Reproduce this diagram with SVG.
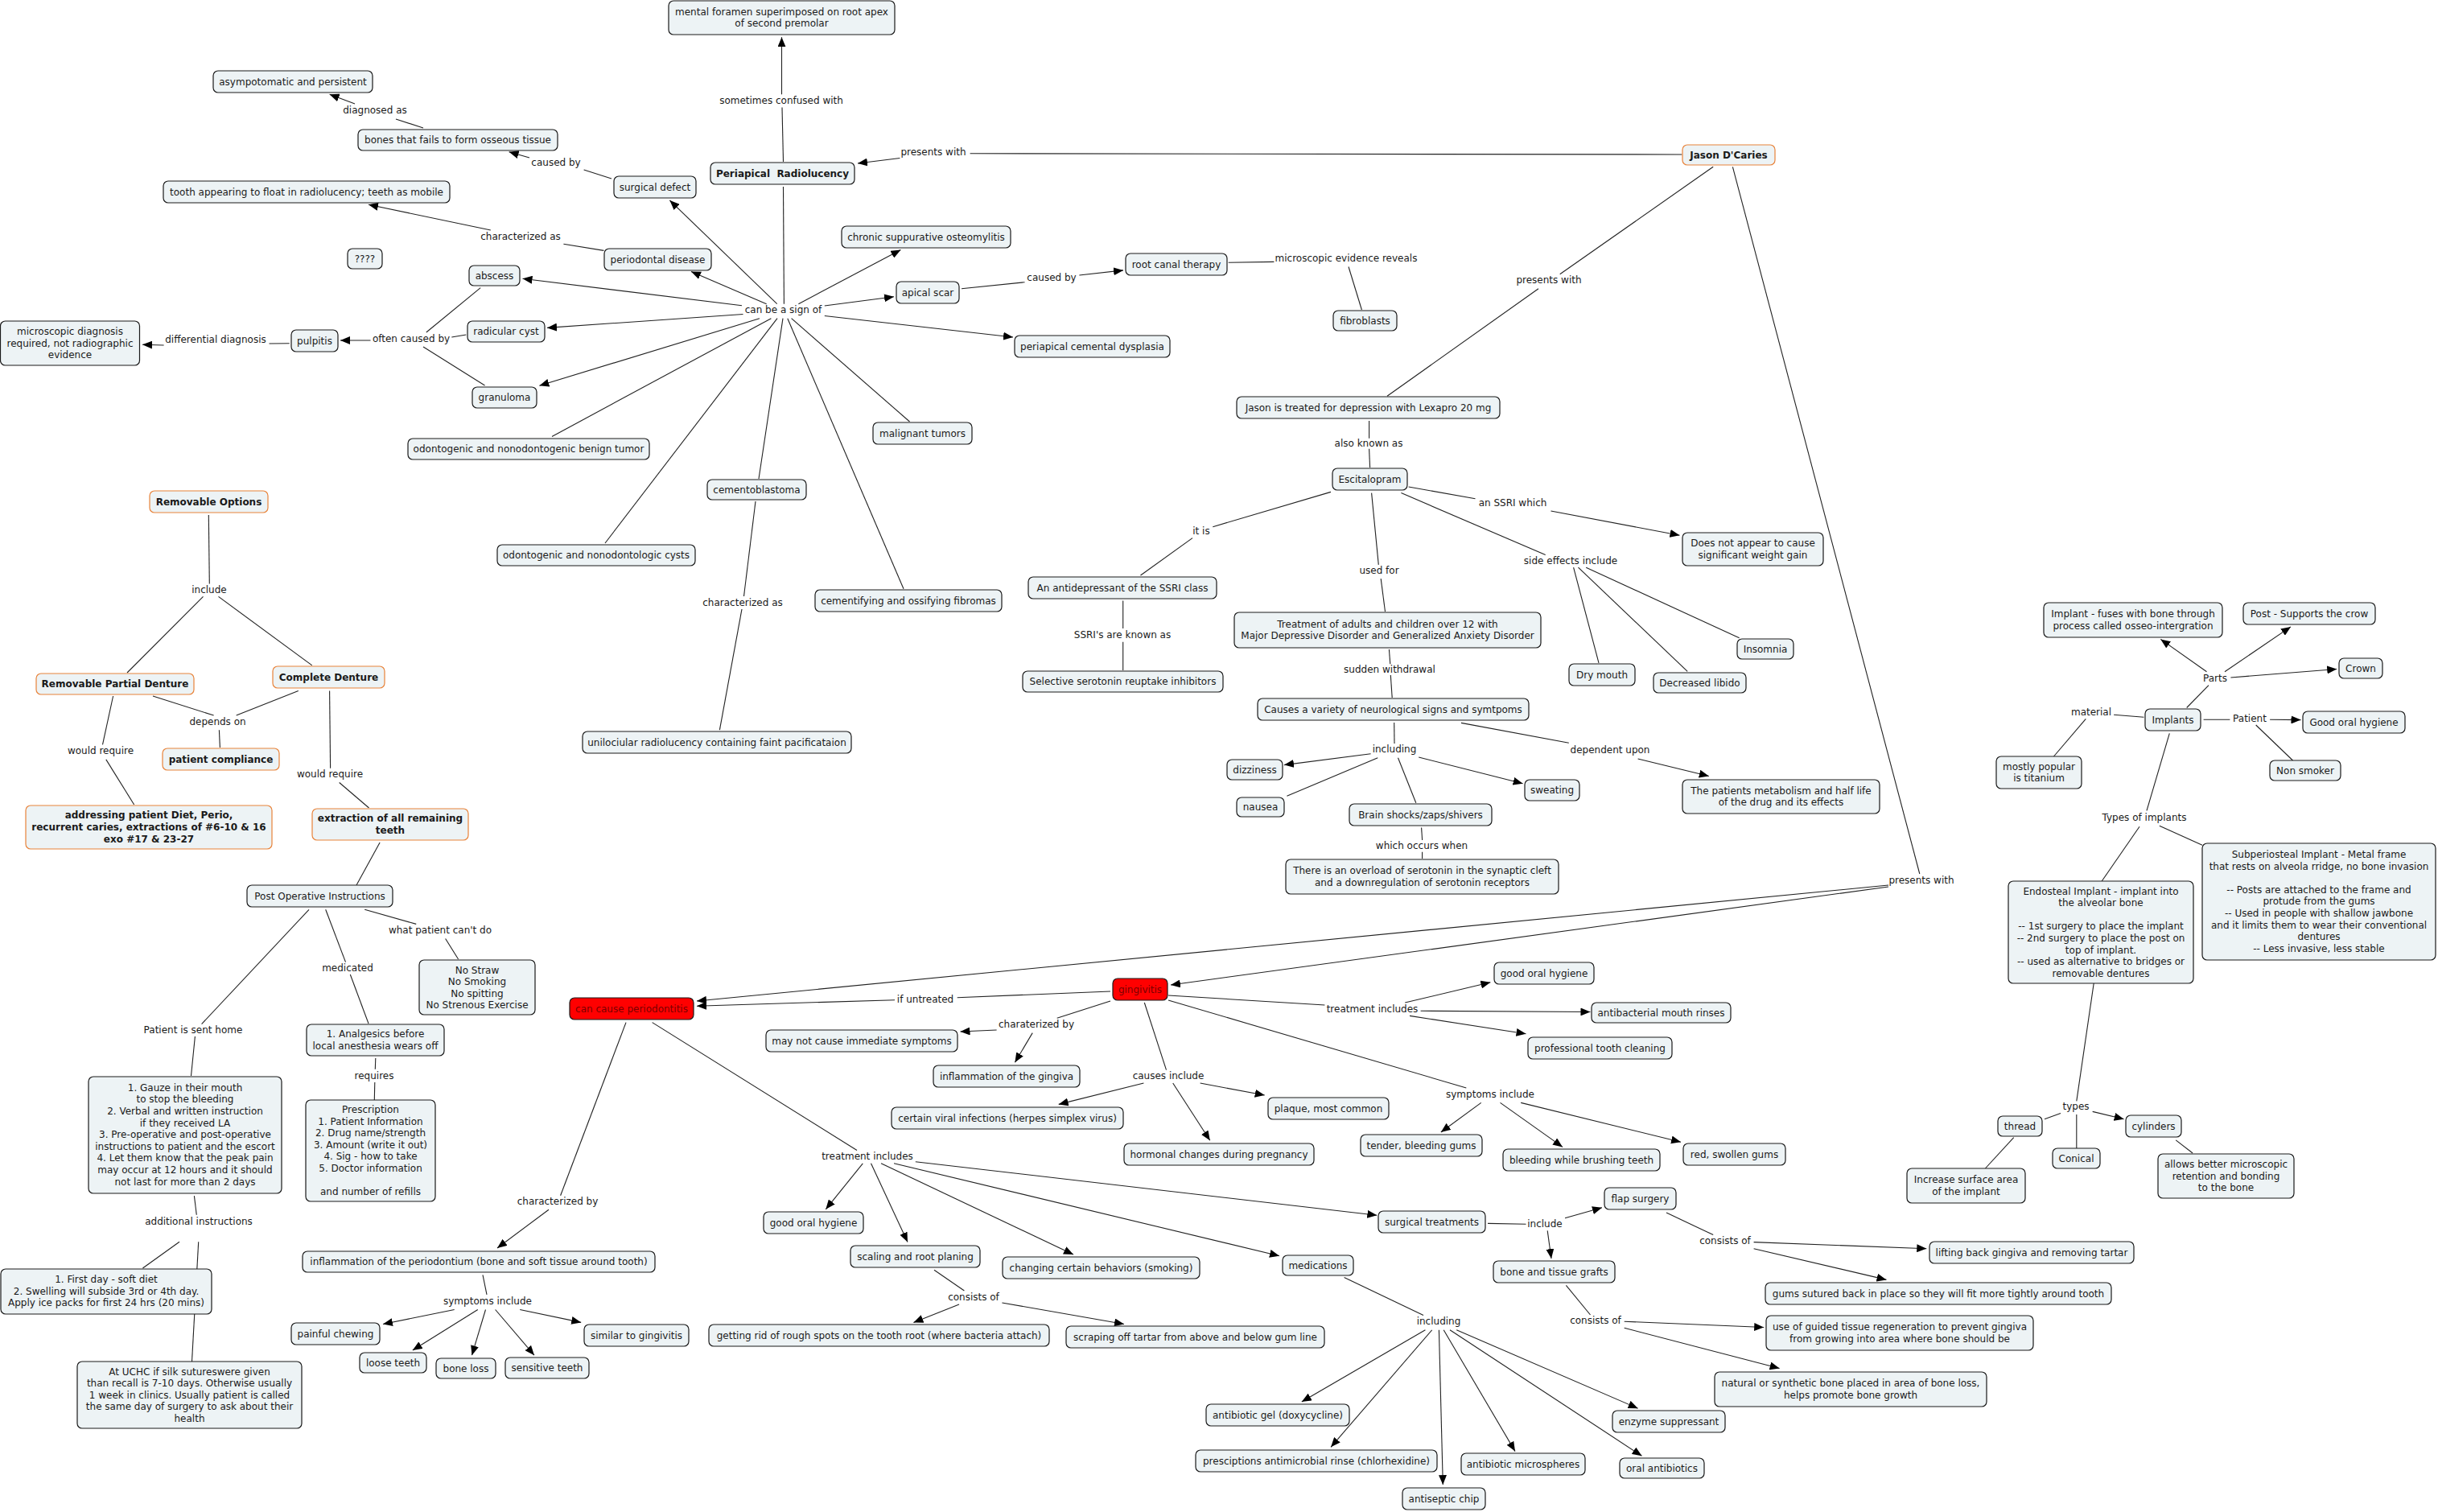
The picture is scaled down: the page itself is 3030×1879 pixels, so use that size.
<svg xmlns="http://www.w3.org/2000/svg" width="3030" height="1879" viewBox="0 0 3030 1879">
<style>
.n rect{fill:#edf3f5;stroke:#1a1a1a;stroke-width:1.2}
.o rect{stroke:#e8833a}
.r rect{fill:#ff0000}
text{font-family:"DejaVu Sans",Verdana,sans-serif;font-size:12px;fill:#1a1a1a;text-anchor:middle}
.b text{font-weight:bold}
.r text{fill:#7a0000}
.c{stroke:#222;stroke-width:1.1;fill:none}
.a{marker-end:url(#ah)}
</style>
<defs>
<marker id="ah" markerUnits="userSpaceOnUse" markerWidth="12" markerHeight="10" refX="12" refY="5" orient="auto"><path d="M0,0 L12,5 L0,10 z" fill="#000"/></marker>
</defs>
<rect x="0" y="0" width="3030" height="1879" fill="#fff"/>
<g id="connectors">
<line class="c" x1="526" y1="159" x2="492" y2="148"/>
<line class="c a" x1="441" y1="129" x2="409.6" y2="117.3"/>
<line class="c" x1="760" y1="222" x2="725.6" y2="211"/>
<line class="c a" x1="658" y1="196" x2="632.6" y2="188.8"/>
<line class="c" x1="700.4" y1="303.3" x2="750.4" y2="311.4"/>
<line class="c a" x1="609.8" y1="286" x2="458" y2="254.3"/>
<line class="c" x1="359.7" y1="426.7" x2="334.5" y2="427"/>
<line class="c a" x1="203.6" y1="429" x2="177" y2="428.3"/>
<line class="c a" x1="460.5" y1="423" x2="423" y2="423"/>
<line class="c" x1="529.8" y1="413" x2="597.2" y2="357.6"/>
<line class="c" x1="561.3" y1="419" x2="579.3" y2="416"/>
<line class="c" x1="526" y1="431" x2="602.5" y2="479"/>
<line class="c" x1="973.5" y1="201" x2="972" y2="133.4"/>
<line class="c a" x1="971.5" y1="117.3" x2="971.5" y2="46.2"/>
<line class="c a" x1="1118.4" y1="196.5" x2="1066" y2="203"/>
<line class="c" x1="1205.6" y1="190.8" x2="2090.4" y2="192"/>
<line class="c" x1="973.5" y1="232" x2="974.4" y2="377.7"/>
<line class="c a" x1="965.7" y1="377.7" x2="832.4" y2="249"/>
<line class="c a" x1="952.6" y1="377.7" x2="859" y2="337.5"/>
<line class="c a" x1="922" y1="379.7" x2="649.5" y2="346.3"/>
<line class="c a" x1="923.5" y1="390.5" x2="680" y2="407.4"/>
<line class="c a" x1="944" y1="395.7" x2="670.4" y2="479.3"/>
<line class="c" x1="958.4" y1="395.7" x2="686" y2="542.4"/>
<line class="c" x1="966" y1="395.7" x2="752" y2="675"/>
<line class="c" x1="973" y1="395.7" x2="943" y2="595"/>
<line class="c" x1="978.8" y1="395.7" x2="1123" y2="731.7"/>
<line class="c" x1="983.6" y1="395.7" x2="1130.5" y2="524"/>
<line class="c a" x1="992.4" y1="377.7" x2="1119.4" y2="310.6"/>
<line class="c a" x1="1024.8" y1="380" x2="1111" y2="368.8"/>
<line class="c a" x1="1024.8" y1="392.5" x2="1259" y2="419"/>
<line class="c" x1="1195" y1="358.8" x2="1273.5" y2="350.7"/>
<line class="c a" x1="1341.4" y1="342" x2="1396" y2="335.9"/>
<line class="c" x1="1526.7" y1="326.2" x2="1583.4" y2="325.4"/>
<line class="c" x1="1676" y1="331.5" x2="1692.4" y2="385"/>
<line class="c" x1="2129.2" y1="207.3" x2="1938.7" y2="340.7"/>
<line class="c" x1="1912" y1="358.8" x2="1724" y2="492.2"/>
<line class="c" x1="1701.6" y1="523" x2="1701.6" y2="544.8"/>
<line class="c" x1="1701.6" y1="557.7" x2="1702.6" y2="581"/>
<line class="c" x1="1750.6" y1="605" x2="1833.5" y2="619.8"/>
<line class="c a" x1="1927.5" y1="635" x2="2087.5" y2="665.2"/>
<line class="c" x1="1741.4" y1="612.6" x2="1920.7" y2="689.6"/>
<line class="c" x1="1955.6" y1="705.2" x2="1987" y2="823.9"/>
<line class="c" x1="1961.5" y1="705.2" x2="2097.2" y2="834.4"/>
<line class="c" x1="1971.2" y1="705.2" x2="2161.6" y2="792.8"/>
<line class="c" x1="1704.6" y1="612.6" x2="1713.3" y2="701.9"/>
<line class="c" x1="1716.2" y1="719.1" x2="1721.5" y2="760"/>
<line class="c" x1="1726.4" y1="807" x2="1727.8" y2="825.2"/>
<line class="c" x1="1728.3" y1="839" x2="1730.2" y2="867"/>
<line class="c" x1="1732.7" y1="898" x2="1733" y2="924"/>
<line class="c a" x1="1703.6" y1="936.7" x2="1596" y2="950.6"/>
<line class="c" x1="1712.3" y1="941.8" x2="1599.4" y2="989.3"/>
<line class="c" x1="1737.5" y1="941.8" x2="1759.8" y2="997.7"/>
<line class="c a" x1="1763.2" y1="941" x2="1892.6" y2="973.7"/>
<line class="c" x1="1816" y1="898.4" x2="1949.8" y2="923.2"/>
<line class="c a" x1="2035.6" y1="943" x2="2123.8" y2="964.5"/>
<line class="c" x1="1766.6" y1="1028.5" x2="1767.6" y2="1044"/>
<line class="c" x1="1767.6" y1="1058.7" x2="1767.6" y2="1067"/>
<line class="c" x1="1654" y1="611.4" x2="1507.3" y2="654.7"/>
<line class="c" x1="1482" y1="668.6" x2="1417.5" y2="715"/>
<line class="c" x1="1395.7" y1="746.5" x2="1395.7" y2="781"/>
<line class="c" x1="1395.7" y1="797.8" x2="1395.7" y2="833"/>
<line class="c" x1="939" y1="623" x2="924.5" y2="741"/>
<line class="c" x1="922" y1="757" x2="894.4" y2="907.2"/>
<line class="c" x1="2153.4" y1="207.3" x2="2385.8" y2="1086"/>
<line class="c a" x1="2347" y1="1100" x2="866" y2="1244"/>
<line class="c a" x1="2347" y1="1102" x2="1455" y2="1224"/>
<line class="c" x1="1380" y1="1232" x2="1189.7" y2="1239.7"/>
<line class="c a" x1="1112" y1="1242.7" x2="866" y2="1250.2"/>
<line class="c" x1="259.3" y1="640" x2="260.3" y2="725.4"/>
<line class="c" x1="252.5" y1="741.4" x2="158" y2="836"/>
<line class="c" x1="271.5" y1="741.4" x2="387.8" y2="826.9"/>
<line class="c" x1="190" y1="865" x2="265.6" y2="889.1"/>
<line class="c" x1="370.8" y1="858.4" x2="293.7" y2="889.1"/>
<line class="c" x1="272.4" y1="907.2" x2="273.4" y2="929"/>
<line class="c" x1="140.6" y1="865" x2="127.5" y2="925.3"/>
<line class="c" x1="131.8" y1="943.9" x2="166.7" y2="1000"/>
<line class="c" x1="409.6" y1="858.4" x2="410.6" y2="954.8"/>
<line class="c" x1="421.7" y1="972.5" x2="458.5" y2="1004"/>
<line class="c" x1="472.1" y1="1047" x2="443" y2="1100"/>
<line class="c" x1="453.2" y1="1130.3" x2="517.2" y2="1148.4"/>
<line class="c" x1="553.6" y1="1166.5" x2="569.6" y2="1192"/>
<line class="c" x1="404.7" y1="1130.3" x2="429.5" y2="1195.6"/>
<line class="c" x1="435.3" y1="1211" x2="458" y2="1272"/>
<line class="c" x1="384" y1="1130.3" x2="250.6" y2="1272.6"/>
<line class="c" x1="242.4" y1="1288" x2="237.5" y2="1337"/>
<line class="c" x1="241.4" y1="1486.1" x2="244.3" y2="1509.8"/>
<line class="c" x1="223" y1="1543.2" x2="177.4" y2="1576"/>
<line class="c" x1="246.7" y1="1543.2" x2="238.5" y2="1692"/>
<line class="c" x1="466.8" y1="1315" x2="466.3" y2="1328.8"/>
<line class="c" x1="465.8" y1="1345.1" x2="465.3" y2="1367"/>
<line class="c" x1="778" y1="1270.6" x2="696.6" y2="1485.7"/>
<line class="c a" x1="682" y1="1503.2" x2="618" y2="1551"/>
<line class="c" x1="600" y1="1584.3" x2="605" y2="1608.8"/>
<line class="c a" x1="564.7" y1="1627.5" x2="476" y2="1645.5"/>
<line class="c a" x1="593.8" y1="1627.5" x2="512.8" y2="1678"/>
<line class="c a" x1="603.5" y1="1627.5" x2="586.5" y2="1684.2"/>
<line class="c a" x1="615.6" y1="1627.5" x2="664" y2="1684.2"/>
<line class="c a" x1="646.2" y1="1627.5" x2="722.2" y2="1643.4"/>
<line class="c" x1="810.6" y1="1270.6" x2="1065" y2="1429.5"/>
<line class="c" x1="1380" y1="1244" x2="1313.7" y2="1265.3"/>
<line class="c a" x1="1238.6" y1="1280" x2="1193.5" y2="1282"/>
<line class="c a" x1="1283.2" y1="1283.6" x2="1261.4" y2="1320.3"/>
<line class="c" x1="1422.3" y1="1246" x2="1449.5" y2="1329.6"/>
<line class="c a" x1="1421.4" y1="1346" x2="1315.7" y2="1372.4"/>
<line class="c a" x1="1457.7" y1="1346" x2="1503.8" y2="1417.3"/>
<line class="c a" x1="1491.6" y1="1346" x2="1571.7" y2="1361"/>
<line class="c a" x1="1072.3" y1="1445.8" x2="1026.3" y2="1502.8"/>
<line class="c a" x1="1082.5" y1="1445.8" x2="1128" y2="1543.6"/>
<line class="c a" x1="1095" y1="1445.8" x2="1334" y2="1559"/>
<line class="c a" x1="1111" y1="1445.8" x2="1590" y2="1560.7"/>
<line class="c a" x1="1137.8" y1="1443.7" x2="1711.3" y2="1510.2"/>
<line class="c" x1="1161" y1="1578.2" x2="1198.4" y2="1604"/>
<line class="c a" x1="1192" y1="1621" x2="1135.4" y2="1643.4"/>
<line class="c a" x1="1245.4" y1="1619" x2="1397" y2="1645.5"/>
<line class="c" x1="1452" y1="1237" x2="1646.4" y2="1249"/>
<line class="c a" x1="1746.2" y1="1246" x2="1852.4" y2="1220.8"/>
<line class="c a" x1="1765.6" y1="1256.3" x2="1976.5" y2="1257.5"/>
<line class="c a" x1="1752" y1="1262.4" x2="1896.5" y2="1284.8"/>
<line class="c" x1="1452" y1="1243" x2="1822.3" y2="1352"/>
<line class="c a" x1="1840.8" y1="1370.4" x2="1790.8" y2="1407"/>
<line class="c a" x1="1864.5" y1="1370.4" x2="1942" y2="1425.4"/>
<line class="c a" x1="1890.2" y1="1370.4" x2="2089" y2="1419.3"/>
<line class="c" x1="1849" y1="1520.4" x2="1896.5" y2="1521.2"/>
<line class="c a" x1="1945" y1="1513.8" x2="1991" y2="1500.8"/>
<line class="c a" x1="1923.2" y1="1529.3" x2="1928" y2="1564"/>
<line class="c" x1="2071" y1="1507" x2="2129.2" y2="1534.6"/>
<line class="c a" x1="2179.6" y1="1543.6" x2="2394.3" y2="1551.7"/>
<line class="c a" x1="2179.6" y1="1551.7" x2="2344.5" y2="1590.4"/>
<line class="c" x1="1670.6" y1="1587.6" x2="1769" y2="1634.4"/>
<line class="c a" x1="1771.4" y1="1652.8" x2="1617.8" y2="1742"/>
<line class="c a" x1="1779.7" y1="1652.8" x2="1654.1" y2="1798.3"/>
<line class="c a" x1="1788.4" y1="1652.8" x2="1793.3" y2="1845.1"/>
<line class="c a" x1="1794.2" y1="1652.8" x2="1883" y2="1803.6"/>
<line class="c a" x1="1802" y1="1652.8" x2="2040.5" y2="1809.3"/>
<line class="c a" x1="1810.2" y1="1652.8" x2="2035.6" y2="1750.2"/>
<line class="c" x1="1946.4" y1="1597.4" x2="1976.5" y2="1634"/>
<line class="c a" x1="2018.7" y1="1642.2" x2="2192.2" y2="1649.5"/>
<line class="c a" x1="2018.7" y1="1650.3" x2="2211.6" y2="1700.5"/>
<line class="c" x1="2602.2" y1="1222" x2="2580.8" y2="1368.4"/>
<line class="c" x1="2561" y1="1383.4" x2="2541" y2="1390.8"/>
<line class="c" x1="2580.8" y1="1385" x2="2580.8" y2="1427"/>
<line class="c a" x1="2600.7" y1="1381.4" x2="2639.6" y2="1390.8"/>
<line class="c" x1="2502.7" y1="1413.6" x2="2467.4" y2="1452"/>
<line class="c" x1="2704.2" y1="1416.9" x2="2725.1" y2="1433"/>
<line class="c" x1="2717.7" y1="879.5" x2="2745" y2="851.7"/>
<line class="c a" x1="2742.5" y1="834.8" x2="2685.3" y2="794.4"/>
<line class="c a" x1="2765" y1="834.8" x2="2847" y2="778.9"/>
<line class="c a" x1="2772.4" y1="842" x2="2904.2" y2="831.5"/>
<line class="c" x1="2664.4" y1="891.2" x2="2627.1" y2="888.3"/>
<line class="c" x1="2592.3" y1="893.3" x2="2552.5" y2="940"/>
<line class="c" x1="2738.6" y1="894.2" x2="2771.4" y2="894.2"/>
<line class="c a" x1="2821.1" y1="894.2" x2="2859.5" y2="894.6"/>
<line class="c" x1="2803.7" y1="901" x2="2849.5" y2="945"/>
<line class="c" x1="2696.3" y1="911.4" x2="2668" y2="1007.4"/>
<line class="c" x1="2659" y1="1027.2" x2="2612.2" y2="1095"/>
<line class="c" x1="2683.8" y1="1026.3" x2="2737" y2="1050.3"/>
<g id="link-labels">
<text x="466" y="141">diagnosed as</text>
<text x="691" y="206">caused by</text>
<text x="647" y="298">characterized as</text>
<text x="268" y="426">differential diagnosis</text>
<text x="511" y="425">often caused by</text>
<text x="971" y="129">sometimes confused with</text>
<text x="1160" y="193">presents with</text>
<text x="973.5" y="389">can be a sign of</text>
<text x="1307" y="349">caused by</text>
<text x="1673" y="325">microscopic evidence reveals</text>
<text x="1925" y="352">presents with</text>
<text x="1701" y="555">also known as</text>
<text x="1880" y="629">an SSRI which</text>
<text x="1952" y="701">side effects include</text>
<text x="1714" y="713">used for</text>
<text x="1727" y="836">sudden withdrawal</text>
<text x="1733" y="935">including</text>
<text x="2001" y="936">dependent upon</text>
<text x="1767" y="1055">which occurs when</text>
<text x="1493" y="664">it is</text>
<text x="1395" y="793">SSRI's are known as</text>
<text x="923" y="753">characterized as</text>
<text x="1150" y="1246">if untreated</text>
<text x="260" y="737">include</text>
<text x="270.5" y="901">depends on</text>
<text x="125" y="937">would require</text>
<text x="410" y="966">would require</text>
<text x="547" y="1160">what patient can't do</text>
<text x="432" y="1207">medicated</text>
<text x="240" y="1284">Patient is sent home</text>
<text x="247" y="1522">additional instructions</text>
<text x="465" y="1341">requires</text>
<text x="693" y="1497">characterized by</text>
<text x="606" y="1621">symptoms include</text>
<text x="1078" y="1441">treatment includes</text>
<text x="1288" y="1277">charaterized by</text>
<text x="1452" y="1341">causes include</text>
<text x="1210" y="1616">consists of</text>
<text x="1705.5" y="1258">treatment includes</text>
<text x="1852" y="1364">symptoms include</text>
<text x="1920" y="1525">include</text>
<text x="2144" y="1546">consists of</text>
<text x="1788" y="1646">including</text>
<text x="1983" y="1645">consists of</text>
<text x="2580" y="1379">types</text>
<text x="2753" y="847">Parts</text>
<text x="2599" y="889">material</text>
<text x="2796" y="897">Patient</text>
<text x="2665" y="1020">Types of implants</text>
<text x="2388" y="1098">presents with</text>
</g>
</g>
<g id="n-asym" class="n"><rect x="265" y="88" width="198" height="27" rx="6"/><text x="364" y="105.5">asympotomatic and persistent</text></g>
<g id="n-bones" class="n"><rect x="445" y="161" width="248" height="26" rx="6"/><text x="569" y="178">bones that fails to form osseous tissue</text></g>
<g id="n-tooth" class="n"><rect x="203" y="225" width="356" height="27" rx="6"/><text x="381" y="242.5">tooth appearing to float in radiolucency; teeth as mobile</text></g>
<g id="n-q" class="n"><rect x="432" y="309" width="43" height="25" rx="6"/><text x="453.5" y="325.5">????</text></g>
<g id="n-abscess" class="n"><rect x="583" y="330" width="63" height="25" rx="6"/><text x="614.5" y="346.5">abscess</text></g>
<g id="n-radcyst" class="n"><rect x="581" y="399" width="96" height="26" rx="6"/><text x="629" y="416">radicular cyst</text></g>
<g id="n-pulpitis" class="n"><rect x="362" y="410" width="58" height="27" rx="6"/><text x="391" y="427.5">pulpitis</text></g>
<g id="n-micro" class="n"><rect x="0.5" y="399" width="173" height="55" rx="6"/><text><tspan x="87" y="416">microscopic diagnosis</tspan><tspan x="87" y="430.6">required, not radiographic</tspan><tspan x="87" y="445.2">evidence</tspan></text></g>
<g id="n-granuloma" class="n"><rect x="587" y="481" width="80" height="26" rx="6"/><text x="627" y="498">granuloma</text></g>
<g id="n-benign" class="n"><rect x="507" y="545" width="300" height="26" rx="6"/><text x="657" y="562">odontogenic and nonodontogenic benign tumor</text></g>
<g id="n-mental" class="n"><rect x="831" y="1" width="281" height="42" rx="6"/><text><tspan x="971.5" y="18.7">mental foramen superimposed on root apex</tspan><tspan x="971.5" y="33.3">of second premolar</tspan></text></g>
<g id="n-periapical" class="n b"><rect x="883" y="202" width="179" height="27" rx="6"/><text x="972.5" y="219.5" xml:space="preserve">Periapical  Radiolucency</text></g>
<g id="n-surgdef" class="n"><rect x="763" y="219" width="102" height="27" rx="6"/><text x="814" y="236.5">surgical defect</text></g>
<g id="n-perio" class="n"><rect x="751" y="309" width="133" height="27" rx="6"/><text x="817.5" y="326.5">periodontal disease</text></g>
<g id="n-chronic" class="n"><rect x="1046" y="281" width="210" height="27" rx="6"/><text x="1151" y="298.5">chronic suppurative osteomylitis</text></g>
<g id="n-rootcanal" class="n"><rect x="1399" y="315" width="126" height="27" rx="6"/><text x="1462" y="332.5">root canal therapy</text></g>
<g id="n-apical" class="n"><rect x="1114" y="350" width="78" height="27" rx="6"/><text x="1153" y="367.5">apical scar</text></g>
<g id="n-pcd" class="n"><rect x="1261" y="417" width="193" height="27" rx="6"/><text x="1357.5" y="434.5">periapical cemental dysplasia</text></g>
<g id="n-malig" class="n"><rect x="1085" y="525" width="123" height="27" rx="6"/><text x="1146.5" y="542.5">malignant tumors</text></g>
<g id="n-cemento" class="n"><rect x="879" y="596" width="123" height="25" rx="6"/><text x="940.5" y="612.5">cementoblastoma</text></g>
<g id="n-jason" class="n o b"><rect x="2091" y="180" width="115" height="25" rx="6"/><text x="2148.5" y="196.5">Jason D'Caries</text></g>
<g id="n-fibro" class="n"><rect x="1657" y="386" width="79" height="25" rx="6"/><text x="1696.5" y="402.5">fibroblasts</text></g>
<g id="n-lexapro" class="n"><rect x="1537" y="493" width="327" height="27" rx="6"/><text x="1700.5" y="510.5">Jason is treated for depression with Lexapro 20 mg</text></g>
<g id="n-escit" class="n"><rect x="1656" y="582" width="93" height="27" rx="6"/><text x="1702.5" y="599.5">Escitalopram</text></g>
<g id="n-weight" class="n"><rect x="2091" y="662" width="175" height="41" rx="6"/><text><tspan x="2178.5" y="679.2">Does not appear to cause</tspan><tspan x="2178.5" y="693.8">significant weight gain</tspan></text></g>
<g id="n-drymouth" class="n"><rect x="1950" y="825" width="82" height="27" rx="6"/><text x="1991" y="842.5">Dry mouth</text></g>
<g id="n-libido" class="n"><rect x="2055" y="836" width="115" height="25" rx="6"/><text x="2112.5" y="852.5">Decreased libido</text></g>
<g id="n-insomnia" class="n"><rect x="2159" y="794" width="70" height="25" rx="6"/><text x="2194" y="810.5">Insomnia</text></g>
<g id="n-treatment" class="n"><rect x="1534" y="761" width="381" height="44" rx="6"/><text><tspan x="1724.5" y="779.7">Treatment of adults and children over 12 with</tspan><tspan x="1724.5" y="794.3">Major Depressive Disorder and Generalized Anxiety Disorder</tspan></text></g>
<g id="n-causes" class="n"><rect x="1563" y="868" width="337" height="27" rx="6"/><text x="1731.5" y="885.5">Causes a variety of neurological signs and symtpoms</text></g>
<g id="n-dizzy" class="n"><rect x="1525" y="944" width="69" height="25" rx="6"/><text x="1559.5" y="960.5">dizziness</text></g>
<g id="n-nausea" class="n"><rect x="1537" y="991" width="59" height="24" rx="6"/><text x="1566.5" y="1007">nausea</text></g>
<g id="n-brain" class="n"><rect x="1677" y="999" width="177" height="27" rx="6"/><text x="1765.5" y="1016.5">Brain shocks/zaps/shivers</text></g>
<g id="n-sweat" class="n"><rect x="1895" y="969" width="68" height="26" rx="6"/><text x="1929" y="986">sweating</text></g>
<g id="n-metab" class="n"><rect x="2091" y="969" width="245" height="42" rx="6"/><text><tspan x="2213.5" y="986.7">The patients metabolism and half life</tspan><tspan x="2213.5" y="1001.3">of the drug and its effects</tspan></text></g>
<g id="n-overload" class="n"><rect x="1598" y="1068" width="339" height="43" rx="6"/><text><tspan x="1767.5" y="1086.2">There is an overload of serotonin in the synaptic cleft</tspan><tspan x="1767.5" y="1100.8">and a downregulation of serotonin receptors</tspan></text></g>
<g id="n-cysts" class="n"><rect x="618" y="677" width="246" height="26" rx="6"/><text x="741" y="694">odontogenic and nonodontologic cysts</text></g>
<g id="n-cementif" class="n"><rect x="1013" y="733" width="232" height="27" rx="6"/><text x="1129" y="750.5">cementifying and ossifying fibromas</text></g>
<g id="n-uniloc" class="n"><rect x="724" y="909" width="334" height="27" rx="6"/><text x="891" y="926.5">unilociular radiolucency containing faint pacificataion</text></g>
<g id="n-antidep" class="n"><rect x="1278" y="717" width="234" height="27" rx="6"/><text x="1395" y="734.5">An antidepressant of the SSRI class</text></g>
<g id="n-ssri" class="n"><rect x="1271" y="834" width="249" height="26" rx="6"/><text x="1395.5" y="851">Selective serotonin reuptake inhibitors</text></g>
<g id="n-gingivitis" class="n r"><rect x="1383" y="1216" width="68" height="27" rx="6"/><text x="1417" y="1233.5">gingivitis</text></g>
<g id="n-periodontitis" class="n r"><rect x="708" y="1240" width="154" height="27" rx="6"/><text x="785" y="1257.5">can cause periodontitis</text></g>
<g id="n-goh1" class="n"><rect x="1857" y="1196" width="124" height="27" rx="6"/><text x="1919" y="1213.5">good oral hygiene</text></g>
<g id="n-remopt" class="n o b"><rect x="186" y="610" width="147" height="27" rx="6"/><text x="259.5" y="627.5">Removable Options</text></g>
<g id="n-rpd" class="n o b"><rect x="45" y="837" width="196" height="26" rx="6"/><text x="143" y="854">Removable Partial Denture</text></g>
<g id="n-cd" class="n o b"><rect x="339" y="828" width="139" height="27" rx="6"/><text x="408.5" y="845.5">Complete Denture</text></g>
<g id="n-compliance" class="n o b"><rect x="202" y="930" width="145" height="27" rx="6"/><text x="274.5" y="947.5">patient compliance</text></g>
<g id="n-addressing" class="n o b"><rect x="32" y="1001" width="306" height="54" rx="6"/><text><tspan x="185" y="1017.4">addressing patient Diet, Perio,</tspan><tspan x="185" y="1032">recurrent caries, extractions of #6-10 &amp; 16</tspan><tspan x="185" y="1046.6">exo #17 &amp; 23-27</tspan></text></g>
<g id="n-extraction" class="n o b"><rect x="388" y="1005" width="194" height="39" rx="6"/><text><tspan x="485" y="1021.2">extraction of all remaining</tspan><tspan x="485" y="1035.8">teeth</tspan></text></g>
<g id="n-postop" class="n"><rect x="307" y="1100" width="181" height="27" rx="6"/><text x="397.5" y="1117.5">Post Operative Instructions</text></g>
<g id="n-nostraw" class="n"><rect x="521" y="1193" width="144" height="68" rx="6"/><text><tspan x="593" y="1209.5">No Straw</tspan><tspan x="593" y="1224.1">No Smoking</tspan><tspan x="593" y="1238.7">No spitting</tspan><tspan x="593" y="1253.3">No Strenous Exercise</tspan></text></g>
<g id="n-gauze" class="n"><rect x="110" y="1338" width="240" height="145" rx="6"/><text><tspan x="230" y="1355.7">1. Gauze in their mouth</tspan><tspan x="230" y="1370.3">to stop the bleeding</tspan><tspan x="230" y="1384.9">2. Verbal and written instruction</tspan><tspan x="230" y="1399.5">if they received LA</tspan><tspan x="230" y="1414.1">3. Pre-operative and post-operative</tspan><tspan x="230" y="1428.7">instructions to patient and the escort</tspan><tspan x="230" y="1443.3">4. Let them know that the peak pain</tspan><tspan x="230" y="1457.9">may occur at 12 hours and it should</tspan><tspan x="230" y="1472.5">not last for more than 2 days</tspan></text></g>
<g id="n-firstday" class="n"><rect x="1" y="1577" width="262" height="56" rx="6"/><text><tspan x="132" y="1594">1. First day - soft diet</tspan><tspan x="132" y="1608.6">2. Swelling will subside 3rd or 4th day.</tspan><tspan x="132" y="1623.2">Apply ice packs for first 24 hrs (20 mins)</tspan></text></g>
<g id="n-uchc" class="n"><rect x="96" y="1692" width="279" height="83" rx="6"/><text><tspan x="235.5" y="1708.5">At UCHC if silk sutureswere given</tspan><tspan x="235.5" y="1723.1">than recall is 7-10 days. Otherwise usually</tspan><tspan x="235.5" y="1737.7">1 week in clinics. Usually patient is called</tspan><tspan x="235.5" y="1752.3">the same day of surgery to ask about their</tspan><tspan x="235.5" y="1766.9">health</tspan></text></g>
<g id="n-analg" class="n"><rect x="381" y="1273" width="171" height="39" rx="6"/><text><tspan x="466.5" y="1289.2">1. Analgesics before</tspan><tspan x="466.5" y="1303.8">local anesthesia wears off</tspan></text></g>
<g id="n-prescr" class="n"><rect x="380" y="1367" width="161" height="126" rx="6"/><text><tspan x="460.5" y="1382.9">Prescription</tspan><tspan x="460.5" y="1397.5">1. Patient Information</tspan><tspan x="460.5" y="1412.1">2. Drug name/strength</tspan><tspan x="460.5" y="1426.7">3. Amount (write it out)</tspan><tspan x="460.5" y="1441.3">4. Sig - how to take</tspan><tspan x="460.5" y="1455.9">5. Doctor information</tspan><tspan x="460.5" y="1485.1">and number of refills</tspan></text></g>
<g id="n-inflperio" class="n"><rect x="376" y="1555" width="438" height="26" rx="6"/><text x="595" y="1572">inflammation of the periodontium (bone and soft tissue around tooth)</text></g>
<g id="n-painful" class="n"><rect x="362" y="1644" width="110" height="27" rx="6"/><text x="417" y="1661.5">painful chewing</text></g>
<g id="n-loose" class="n"><rect x="447" y="1681" width="83" height="25" rx="6"/><text x="488.5" y="1697.5">loose teeth</text></g>
<g id="n-boneloss" class="n"><rect x="542" y="1688" width="74" height="25" rx="6"/><text x="579" y="1704.5">bone loss</text></g>
<g id="n-sensitive" class="n"><rect x="628" y="1687" width="104" height="26" rx="6"/><text x="680" y="1704">sensitive teeth</text></g>
<g id="n-similar" class="n"><rect x="726" y="1646" width="130" height="27" rx="6"/><text x="791" y="1663.5">similar to gingivitis</text></g>
<g id="n-maynot" class="n"><rect x="952" y="1280" width="238" height="27" rx="6"/><text x="1071" y="1297.5">may not cause immediate symptoms</text></g>
<g id="n-inflging" class="n"><rect x="1160" y="1324" width="182" height="27" rx="6"/><text x="1251" y="1341.5">inflammation of the gingiva</text></g>
<g id="n-viral" class="n"><rect x="1108" y="1376" width="288" height="27" rx="6"/><text x="1252" y="1393.5">certain viral infections (herpes simplex virus)</text></g>
<g id="n-hormonal" class="n"><rect x="1397" y="1421" width="236" height="27" rx="6"/><text x="1515" y="1438.5">hormonal changes during pregnancy</text></g>
<g id="n-goh2" class="n"><rect x="949" y="1506" width="124" height="27" rx="6"/><text x="1011" y="1523.5">good oral hygiene</text></g>
<g id="n-scaling" class="n"><rect x="1057" y="1548" width="161" height="27" rx="6"/><text x="1137.5" y="1565.5">scaling and root planing</text></g>
<g id="n-behav" class="n"><rect x="1246" y="1562" width="245" height="27" rx="6"/><text x="1368.5" y="1579.5">changing certain behaviors (smoking)</text></g>
<g id="n-roughspots" class="n"><rect x="881" y="1646" width="423" height="27" rx="6"/><text x="1092.5" y="1663.5">getting rid of rough spots on the tooth root (where bacteria attach)</text></g>
<g id="n-scraping" class="n"><rect x="1325" y="1648" width="321" height="27" rx="6"/><text x="1485.5" y="1665.5">scraping off tartar from above and below gum line</text></g>
<g id="n-antibac" class="n"><rect x="1978" y="1246" width="173" height="25" rx="6"/><text x="2064.5" y="1262.5">antibacterial mouth rinses</text></g>
<g id="n-profclean" class="n"><rect x="1899" y="1289" width="179" height="27" rx="6"/><text x="1988.5" y="1306.5">professional tooth cleaning</text></g>
<g id="n-plaque" class="n"><rect x="1576" y="1364" width="150" height="27" rx="6"/><text x="1651" y="1381.5">plaque, most common</text></g>
<g id="n-tender" class="n"><rect x="1691" y="1410" width="151" height="27" rx="6"/><text x="1766.5" y="1427.5">tender, bleeding gums</text></g>
<g id="n-bleedbrush" class="n"><rect x="1868" y="1428" width="195" height="27" rx="6"/><text x="1965.5" y="1445.5">bleeding while brushing teeth</text></g>
<g id="n-redswollen" class="n"><rect x="2092" y="1421" width="127" height="27" rx="6"/><text x="2155.5" y="1438.5">red, swollen gums</text></g>
<g id="n-surgtreat" class="n"><rect x="1713" y="1505" width="133" height="27" rx="6"/><text x="1779.5" y="1522.5">surgical treatments</text></g>
<g id="n-flap" class="n"><rect x="1994" y="1476" width="89" height="27" rx="6"/><text x="2038.5" y="1493.5">flap surgery</text></g>
<g id="n-grafts" class="n"><rect x="1856" y="1567" width="151" height="27" rx="6"/><text x="1931.5" y="1584.5">bone and tissue grafts</text></g>
<g id="n-meds" class="n"><rect x="1594" y="1560" width="88" height="25" rx="6"/><text x="1638" y="1576.5">medications</text></g>
<g id="n-gel" class="n"><rect x="1499" y="1745" width="178" height="27" rx="6"/><text x="1588" y="1762.5">antibiotic gel (doxycycline)</text></g>
<g id="n-rinse" class="n"><rect x="1486" y="1802" width="300" height="27" rx="6"/><text x="1636" y="1819.5">presciptions antimicrobial rinse (chlorhexidine)</text></g>
<g id="n-chip" class="n"><rect x="1743" y="1849" width="103" height="27" rx="6"/><text x="1794.5" y="1866.5">antiseptic chip</text></g>
<g id="n-micros" class="n"><rect x="1816" y="1806" width="154" height="27" rx="6"/><text x="1893" y="1823.5">antibiotic microspheres</text></g>
<g id="n-oralab" class="n"><rect x="2013" y="1812" width="105" height="25" rx="6"/><text x="2065.5" y="1828.5">oral antibiotics</text></g>
<g id="n-enzyme" class="n"><rect x="2004" y="1753" width="140" height="27" rx="6"/><text x="2074" y="1770.5">enzyme suppressant</text></g>
<g id="n-sutured" class="n"><rect x="2194" y="1594" width="430" height="27" rx="6"/><text x="2409" y="1611.5">gums sutured back in place so they will fit more tightly around tooth</text></g>
<g id="n-guided" class="n"><rect x="2195" y="1635" width="332" height="43" rx="6"/><text><tspan x="2361" y="1653.2">use of guided tissue regeneration to prevent gingiva</tspan><tspan x="2361" y="1667.8">from growing into area where bone should be</tspan></text></g>
<g id="n-natural" class="n"><rect x="2131" y="1705" width="338" height="43" rx="6"/><text><tspan x="2300" y="1723.2">natural or synthetic bone placed in area of bone loss,</tspan><tspan x="2300" y="1737.8">helps promote bone growth</tspan></text></g>
<g id="n-lifting" class="n"><rect x="2398" y="1543" width="254" height="27" rx="6"/><text x="2525" y="1560.5">lifting back gingiva and removing tartar</text></g>
<g id="n-thread" class="n"><rect x="2483" y="1387" width="55" height="25" rx="6"/><text x="2510.5" y="1403.5">thread</text></g>
<g id="n-conical" class="n"><rect x="2551" y="1427" width="59" height="25" rx="6"/><text x="2580.5" y="1443.5">Conical</text></g>
<g id="n-cylinders" class="n"><rect x="2642" y="1386" width="69" height="27" rx="6"/><text x="2676.5" y="1403.5">cylinders</text></g>
<g id="n-increase" class="n"><rect x="2370" y="1452" width="147" height="43" rx="6"/><text><tspan x="2443.5" y="1470.2">Increase surface area</tspan><tspan x="2443.5" y="1484.8">of the implant</tspan></text></g>
<g id="n-allows" class="n"><rect x="2682" y="1434" width="169" height="55" rx="6"/><text><tspan x="2766.5" y="1451">allows better microscopic</tspan><tspan x="2766.5" y="1465.6">retention and bonding</tspan><tspan x="2766.5" y="1480.2">to the bone</tspan></text></g>
<g id="n-fuses" class="n"><rect x="2540" y="749" width="222" height="43" rx="6"/><text><tspan x="2651" y="767.2">Implant - fuses with bone through</tspan><tspan x="2651" y="781.8">process called osseo-intergration</tspan></text></g>
<g id="n-post" class="n"><rect x="2788" y="749" width="164" height="27" rx="6"/><text x="2870" y="766.5">Post - Supports the crow</text></g>
<g id="n-crown" class="n"><rect x="2907" y="818" width="54" height="25" rx="6"/><text x="2934" y="834.5">Crown</text></g>
<g id="n-implants" class="n"><rect x="2666" y="881" width="69" height="27" rx="6"/><text x="2700.5" y="898.5">Implants</text></g>
<g id="n-titanium" class="n"><rect x="2481" y="940" width="106" height="40" rx="6"/><text><tspan x="2534" y="956.7">mostly popular</tspan><tspan x="2534" y="971.3">is titanium</tspan></text></g>
<g id="n-goh3" class="n"><rect x="2862" y="884" width="127" height="27" rx="6"/><text x="2925.5" y="901.5">Good oral hygiene</text></g>
<g id="n-nonsmoker" class="n"><rect x="2821" y="945" width="88" height="25" rx="6"/><text x="2865" y="961.5">Non smoker</text></g>
<g id="n-endosteal" class="n"><rect x="2496" y="1095" width="230" height="127" rx="6"/><text><tspan x="2611" y="1111.5">Endosteal Implant - implant into</tspan><tspan x="2611" y="1126.1">the alveolar bone</tspan><tspan x="2611" y="1155.3">-- 1st surgery to place the implant</tspan><tspan x="2611" y="1169.9">-- 2nd surgery to place the post on</tspan><tspan x="2611" y="1184.5">top of implant.</tspan><tspan x="2611" y="1199.1">-- used as alternative to bridges or</tspan><tspan x="2611" y="1213.7">removable dentures</tspan></text></g>
<g id="n-subperi" class="n"><rect x="2737" y="1048" width="290" height="145" rx="6"/><text><tspan x="2882" y="1066">Subperiosteal Implant - Metal frame</tspan><tspan x="2882" y="1080.6">that rests on alveola rridge, no bone invasion</tspan><tspan x="2882" y="1109.8">-- Posts are attached to the frame and</tspan><tspan x="2882" y="1124.4">protude from the gums</tspan><tspan x="2882" y="1139">-- Used in people with shallow jawbone</tspan><tspan x="2882" y="1153.6">and it limits them to wear their conventional</tspan><tspan x="2882" y="1168.2">dentures</tspan><tspan x="2882" y="1182.8">-- Less invasive, less stable</tspan></text></g>
</svg>
